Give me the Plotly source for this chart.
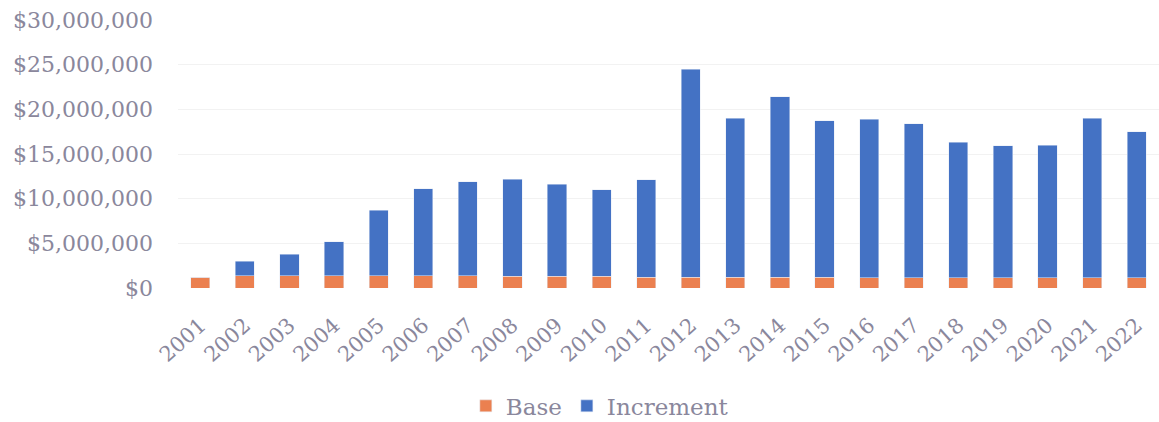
import plotly.graph_objects as go

years = [str(y) for y in range(2001, 2023)]
base = [1.2e6, 1.35e6, 1.35e6, 1.35e6, 1.35e6, 1.35e6, 1.35e6, 1.3e6, 1.3e6, 1.3e6, 1.2e6,
        1.2e6, 1.2e6, 1.2e6, 1.2e6, 1.15e6, 1.15e6, 1.15e6, 1.15e6, 1.15e6, 1.15e6, 1.15e6]
total = [1.2e6, 3.0e6, 3.8e6, 5.15e6, 8.7e6, 11.1e6, 11.9e6, 12.2e6, 11.6e6, 11.0e6, 12.1e6,
         24.5e6, 19.0e6, 21.4e6, 18.7e6, 18.9e6, 18.4e6, 16.3e6, 15.9e6, 16.0e6, 19.0e6, 17.5e6]
increment = [t - b for t, b in zip(total, base)]

tick_vals = [0, 5e6, 10e6, 15e6, 20e6, 25e6, 30e6]
tick_text = ["$0", "$5,000,000", "$10,000,000", "$15,000,000", "$20,000,000", "$25,000,000", "$30,000,000"]

font_family = "DejaVu Serif"
text_color = "#8a879c"

fig = go.Figure()
fig.add_trace(go.Bar(x=years, y=base, name="Base", marker_color="#EB8050"))
fig.add_trace(go.Bar(x=years, y=increment, name="Increment", marker_color="#4472C4"))

fig.update_layout(
    width=1159, height=422,
    barmode="stack", bargap=0.57,
    plot_bgcolor="white", paper_bgcolor="white",
    margin=dict(l=178, r=0, t=20, b=134, autoexpand=False),
    font=dict(family=font_family, size=21, color=text_color),
    legend=dict(orientation="h", x=0.43, xanchor="center", y=-0.44, yanchor="middle",
                traceorder="normal", font=dict(size=23, color=text_color)),
    showlegend=True,
)
fig.update_yaxes(range=[0, 30e6], tickvals=tick_vals, ticktext=tick_text, automargin=False,
                 tickfont=dict(size=22), ticklabelstandoff=24,
                 showgrid=True, gridcolor="#f2f2f2", zeroline=False, ticks="", ticklen=0)
fig.update_xaxes(tickangle=-42, showgrid=False, showline=False, ticklabelstandoff=20,
                 automargin=False, tickfont=dict(size=21))

fig.write_html("out.html")
